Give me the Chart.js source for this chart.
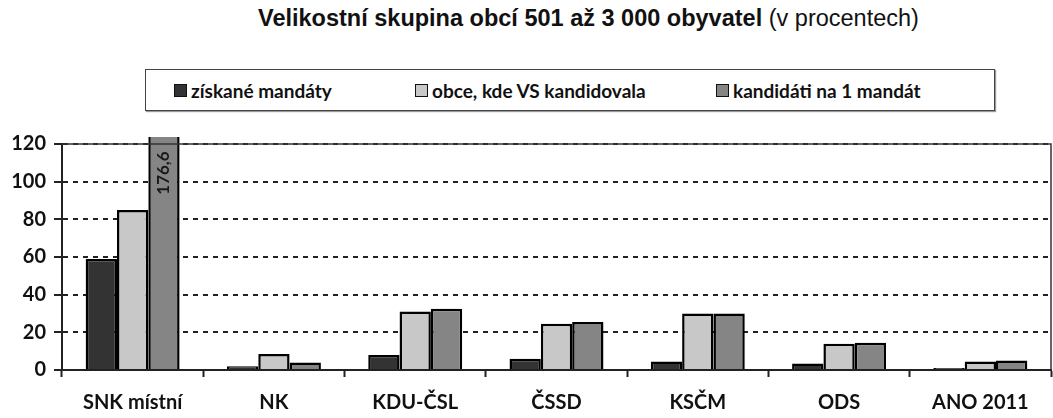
<!DOCTYPE html>
<html>
<head>
<meta charset="utf-8">
<script src="https://cdn.jsdelivr.net/npm/chart.js@4"></script>
<style>
  body { margin: 0; background: #fff; }
  #wrap { position: relative; width: 1053px; height: 418px; }
  #title {
    position: absolute; top: 5px; left: 258px; white-space: nowrap;
    font-family: "Liberation Sans", Arial, sans-serif; font-size: 23.5px; color: #111;
  }
  #title b { font-weight: bold; }
  #legend {
    position: absolute; left: 145px; top: 69px; width: 848px; height: 40px;
    border: 1.5px solid #444; box-shadow: 1px 1px 1px #999;
    font-family: Lato, "Open Sans", sans-serif; font-weight: bold; font-size: 19px; color: #111;
  }
  .item { position: absolute; top: 0; height: 40px; display: flex; align-items: center; white-space: nowrap; }
  .swatch { width: 11px; height: 11px; border: 1.5px solid #111; margin-right: 4px; }
  canvas { position: absolute; left: 0; top: 0; }
</style>
</head>
<body>
<div id="wrap">
  <div id="title"><b>Velikostní skupina obcí 501 až 3 000 obyvatel</b> (v procentech)</div>
  <div id="legend"></div>
  <canvas id="chart" width="1053" height="418"></canvas>
</div>
<script>
// --- Data ---
const categories = ['SNK místní', 'NK', 'KDU-ČSL', 'ČSSD', 'KSČM', 'ODS', 'ANO 2011'];
const seriesNames = ['získané mandáty', 'obce, kde VS kandidovala', 'kandidáti na 1 mandát'];
const mandates = [59, 2, 8, 6, 4.5, 3.5, 1];
const municipalities = [85, 8.5, 31, 24.5, 30, 14, 4.5];
const candidates = [176.6, 4, 32.5, 25.5, 30, 14.5, 5];
const yTicks = [0, 20, 40, 60, 80, 100, 120];

const colors = ['#333333', '#c8c8c8', '#858585'];
const legendOffsets = [28, 269, 570];
const labelFont = { family: 'Lato', weight: 'bold', size: 20 };

// --- Legend (HTML) ---
const legendEl = document.getElementById('legend');
seriesNames.forEach((name, i) => {
    const item = document.createElement('div');
    item.className = 'item';
    item.style.left = legendOffsets[i] + 'px';
    item.innerHTML = `<span class="swatch" style="background:${colors[i]}"></span>${name}`;
    legendEl.appendChild(item);
});

// --- Plugins ---
const frame = {
    id: 'frame',
    afterDraw(chart) {
        const { ctx, chartArea: a } = chart;
        ctx.save();
        ctx.strokeStyle = '#333';
        ctx.lineWidth = 1.5;
        ctx.beginPath();
        ctx.moveTo(a.left, a.top);
        ctx.lineTo(a.right, a.top);
        ctx.lineTo(a.right, a.bottom);
        ctx.stroke();
        ctx.restore();
    }
};

const overflowLabel = {
    id: 'overflowLabel',
    afterDatasetsDraw(chart) {
        const { ctx, chartArea: a } = chart;
        const ds = chart.data.datasets[2];
        const max = chart.scales.y.max;
        ds.data.forEach((v, i) => {
            if (v <= max) return;
            const bar = chart.getDatasetMeta(2).data[i];
            ctx.save();
            ctx.translate(bar.x, a.top + 29);
            ctx.rotate(-Math.PI / 2);
            ctx.font = 'bold 17px Lato';
            ctx.fillStyle = '#1a1a1a';
            ctx.textAlign = 'center';
            ctx.textBaseline = 'middle';
            ctx.fillText(String(v).replace('.', ','), 0, 0);
            ctx.restore();
        });
    }
};

// --- Chart ---
const datasets = [mandates, municipalities, candidates].map((data, i) => ({
    label: seriesNames[i],
    data,
    backgroundColor: colors[i],
    borderColor: '#000',
    borderWidth: 2.5,
    borderSkipped: 'bottom',
    categoryPercentage: 0.665,
    barPercentage: 1,
    clip: { left: 0, top: 7, right: 0, bottom: 0 }
}));

new Chart(document.getElementById('chart'), {
    type: 'bar',
    data: { labels: categories, datasets },
    options: {
        responsive: false,
        animation: false,
        layout: { padding: { top: 144, right: 2, left: 0, bottom: 0 } },
        plugins: {
            legend: { display: false },
            tooltip: { enabled: false }
        },
        scales: {
            x: {
                grid: {
                    offset: true,
                    drawOnChartArea: false,
                    tickLength: 7,
                    tickWidth: 2,
                    tickColor: '#222'
                },
                border: { color: '#222', width: 2 },
                ticks: { font: labelFont, color: '#111', padding: 14, maxRotation: 0 },
                afterFit: scale => { scale.height = 48; }
            },
            y: {
                min: 0,
                max: 120,
                afterBuildTicks: scale => { scale.ticks = yTicks.map(v => ({ value: v })); },
                grid: {
                    color: '#222',
                    lineWidth: 2,
                    tickLength: 8,
                    tickWidth: 2,
                    tickColor: '#222'
                },
                border: { color: '#222', width: 2, dash: [5, 5] },
                ticks: { font: labelFont, color: '#111', padding: 8 },
                afterFit: scale => { scale.width = 62; }
            }
        }
    },
    plugins: [frame, overflowLabel]
});
</script>
</body>
</html>
